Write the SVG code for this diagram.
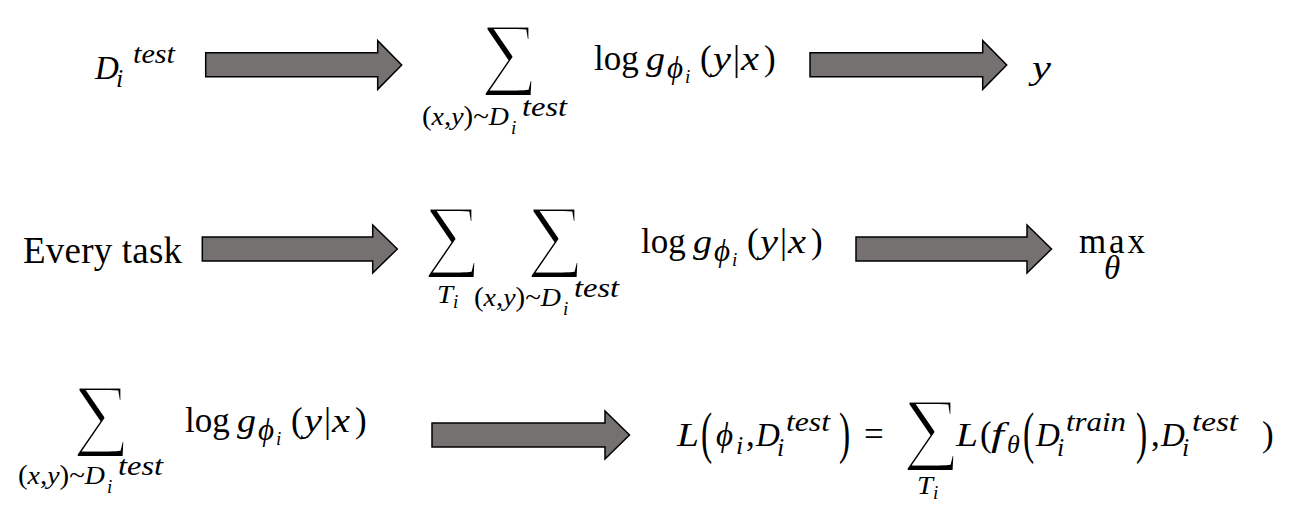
<svg xmlns="http://www.w3.org/2000/svg" width="1310" height="505" viewBox="0 0 1310 505">
<style>
.m{font-family:"Liberation Serif","DejaVu Serif",serif;font-style:italic;font-size:33px;fill:#000}
.u{font-family:"Liberation Serif","DejaVu Serif",serif;font-style:normal;font-size:35px}
.us{font-size:27px}
.s{font-size:26px}
.w{font-size:28px}
.ss{font-size:19px}
.p{font-size:31px}
.sig{font-family:"Liberation Serif","DejaVu Serif",serif;font-style:normal;font-size:80px;fill:#000;stroke:#fff;stroke-width:2.2}
.bp{font-family:"Liberation Serif","DejaVu Serif",serif;font-style:normal;font-size:56px;fill:#000}
.t{font-family:"Liberation Serif","Times New Roman",serif;font-size:37px;fill:#000}
.arrow{fill:#767171;stroke:#000;stroke-width:1.5;stroke-linejoin:miter}
</style>
<rect width="1310" height="505" fill="#fff"/>
<g id="connectors">
<path class="arrow" d="M205.7,52.7H377.7V40.7L401.7,65L377.7,89.3V76.7H205.7Z"/>
<path class="arrow" d="M810,52.7H982.7V40.7L1006.7,65L982.7,89.3V76.7H810Z"/>
<path class="arrow" d="M202.3,237H372.7V225L397.3,249L372.7,273V261H202.3Z"/>
<path class="arrow" d="M856,237H1027V225L1051.5,249L1027,273V261H856Z"/>
<path class="arrow" d="M432,423H605V411L629.5,435L605,459V447H432Z"/>
</g>
<g id="node-dtest">
<text class="m" x="95" y="79" font-size="31">D</text>
<text class="m s" x="116" y="87">i</text>
<text class="m w" x="133" y="63" textLength="42" lengthAdjust="spacingAndGlyphs">test</text>
</g>
<g id="node-sum1">
<text class="sig" x="481" y="79">∑</text>
<text class="m s" x="422" y="125" textLength="87" lengthAdjust="spacingAndGlyphs"><tspan class="u us">(</tspan>x<tspan class="u us">,</tspan>y<tspan class="u us">)~</tspan>D</text>
<text class="m ss" x="511" y="134">i</text>
<text class="m w" x="522" y="116" textLength="45" lengthAdjust="spacingAndGlyphs">test</text>
<text class="u" x="594" y="70">log</text>
<text class="m" x="646" y="70" textLength="19" lengthAdjust="spacingAndGlyphs">g</text>
<text class="m p" x="667" y="78">ϕ</text>
<text class="m ss" x="685" y="83">i</text>
<text class="u" x="700" y="70">(</text>
<text class="m" x="713" y="70" textLength="18" lengthAdjust="spacingAndGlyphs">y</text>
<text class="u" x="733" y="70">|</text>
<text class="m" x="741" y="70" textLength="18" lengthAdjust="spacingAndGlyphs">x</text>
<text class="u" x="764" y="70">)</text>
</g>
<g id="node-y">
<text class="m" x="1032" y="79" textLength="19" lengthAdjust="spacingAndGlyphs">y</text>
</g>
<g id="node-everytask">
<text class="t" x="23" y="263" textLength="159">Every task</text>
</g>
<g id="node-sum2">
<text class="sig" x="424" y="261">∑</text>
<text class="m s" x="437" y="303" textLength="16" lengthAdjust="spacingAndGlyphs">T</text>
<text class="m ss" x="453" y="308">i</text>
<text class="sig" x="527" y="261">∑</text>
<text class="m s" x="474" y="306" textLength="87" lengthAdjust="spacingAndGlyphs"><tspan class="u us">(</tspan>x<tspan class="u us">,</tspan>y<tspan class="u us">)~</tspan>D</text>
<text class="m ss" x="563" y="315">i</text>
<text class="m w" x="574" y="297" textLength="45" lengthAdjust="spacingAndGlyphs">test</text>
<text class="u" x="641" y="253">log</text>
<text class="m" x="693" y="253" textLength="19" lengthAdjust="spacingAndGlyphs">g</text>
<text class="m p" x="714" y="261">ϕ</text>
<text class="m ss" x="732" y="266">i</text>
<text class="u" x="747" y="253">(</text>
<text class="m" x="760" y="253" textLength="18" lengthAdjust="spacingAndGlyphs">y</text>
<text class="u" x="780" y="253">|</text>
<text class="m" x="788" y="253" textLength="18" lengthAdjust="spacingAndGlyphs">x</text>
<text class="u" x="811" y="253">)</text>
</g>
<g id="node-max">
<text class="u" x="1079" y="253" textLength="66">max</text>
<text class="m" x="1104" y="279" font-size="22">θ</text>
</g>
<g id="node-sum3">
<text class="sig" x="73" y="440">∑</text>
<text class="m s" x="18" y="484" textLength="87" lengthAdjust="spacingAndGlyphs"><tspan class="u us">(</tspan>x<tspan class="u us">,</tspan>y<tspan class="u us">)~</tspan>D</text>
<text class="m ss" x="107" y="493">i</text>
<text class="m w" x="118" y="475" textLength="45" lengthAdjust="spacingAndGlyphs">test</text>
<text class="u" x="185" y="432">log</text>
<text class="m" x="237" y="432" textLength="19" lengthAdjust="spacingAndGlyphs">g</text>
<text class="m p" x="258" y="440">ϕ</text>
<text class="m ss" x="276" y="445">i</text>
<text class="u" x="291" y="432">(</text>
<text class="m" x="304" y="432" textLength="18" lengthAdjust="spacingAndGlyphs">y</text>
<text class="u" x="324" y="432">|</text>
<text class="m" x="332" y="432" textLength="18" lengthAdjust="spacingAndGlyphs">x</text>
<text class="u" x="355" y="432">)</text>
</g>
<g id="node-loss">
<text class="m" x="677" y="446" textLength="22" lengthAdjust="spacingAndGlyphs">L</text>
<text class="bp" transform="translate(701,452) scale(0.6,1)">(</text>
<text class="m" x="716" y="446" font-size="35">ϕ</text>
<text class="m s" x="736" y="454">i</text>
<text class="u" x="746" y="446">,</text>
<text class="m" x="756" y="446">D</text>
<text class="m s" x="777" y="456">i</text>
<text class="m w" x="786" y="431" textLength="44" lengthAdjust="spacingAndGlyphs">test</text>
<text class="bp" transform="translate(839,452) scale(0.6,1)">)</text>
<text class="u" x="864" y="446" font-size="38">=</text>
<text class="sig" x="903" y="454">∑</text>
<text class="m s" x="917" y="494" textLength="16" lengthAdjust="spacingAndGlyphs">T</text>
<text class="m ss" x="933" y="499">i</text>
<text class="m" x="956" y="446" textLength="22" lengthAdjust="spacingAndGlyphs">L</text>
<text class="u" x="980" y="446">(</text>
<text class="m" x="991" y="446" textLength="13" lengthAdjust="spacingAndGlyphs">f</text>
<text class="m s" x="1007" y="453">θ</text>
<text class="bp" transform="translate(1023,452) scale(0.6,1)">(</text>
<text class="m" x="1036" y="446">D</text>
<text class="m s" x="1057" y="456">i</text>
<text class="m w" x="1066" y="431" textLength="60" lengthAdjust="spacingAndGlyphs">train</text>
<text class="bp" transform="translate(1136,452) scale(0.6,1)">)</text>
<text class="u" x="1151" y="446">,</text>
<text class="m" x="1161" y="446">D</text>
<text class="m s" x="1182" y="456">i</text>
<text class="m w" x="1192" y="431" textLength="46" lengthAdjust="spacingAndGlyphs">test</text>
<text class="u" x="1262" y="446">)</text>
</g>
</svg>
